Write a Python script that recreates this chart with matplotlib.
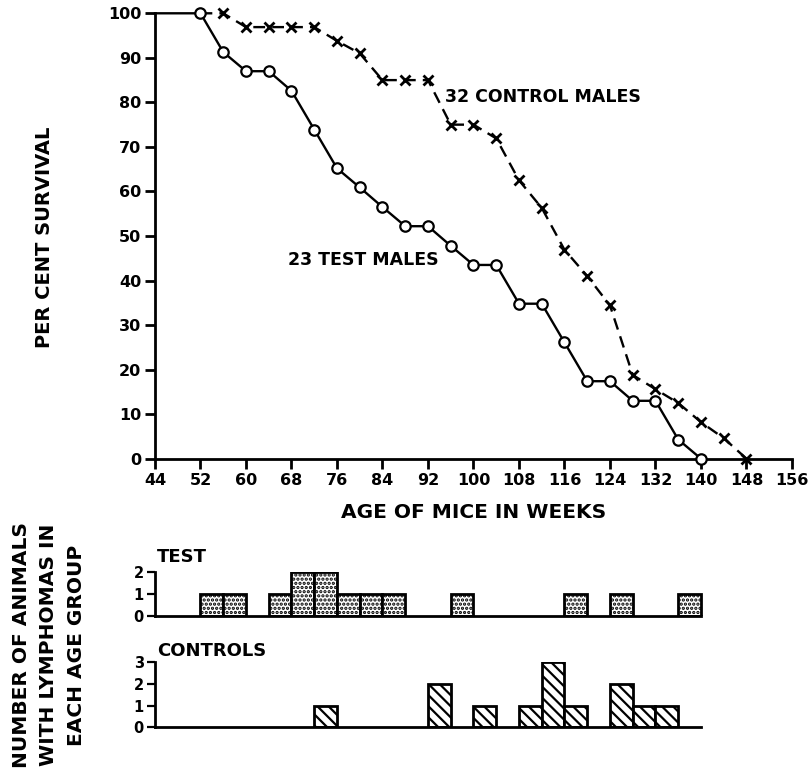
import numpy as np
import matplotlib.pyplot as plt

plt.rcParams['font.family'] = 'DejaVu Sans'
plt.rcParams['font.weight'] = 'bold'
plt.rcParams['hatch.linewidth'] = 1.6

# survival curves (per cent), first point of test curve is the flat start at 44 weeks
test_weeks = [44, 52, 56, 60, 64, 68, 72, 76, 80, 84, 88, 92, 96, 100, 104, 108, 112, 116, 120, 124, 128, 132, 136, 140]
test_surv = [100, 100, 91.3, 87, 87, 82.6, 73.9, 65.2, 60.9, 56.5, 52.2, 52.2, 47.8, 43.5, 43.5, 34.8, 34.8, 26.1,
             17.4, 17.4, 13, 13, 4.3, 0]
ctrl_weeks = [52, 56, 60, 64, 68, 72, 76, 80, 84, 88, 92, 96, 100, 104, 108, 112, 116, 120, 124, 128, 132, 136, 140,
              144, 148]
ctrl_surv = [100, 100, 96.9, 96.9, 96.9, 96.9, 93.8, 91, 85, 85, 85, 75, 75, 71.9, 62.5, 56.3, 46.9, 41, 34.4, 18.8,
             15.6, 12.5, 8.2, 4.6, 0]

# lymphomas per 4-week age group (left edge of group)
test_groups = [52, 56, 64, 68, 72, 76, 80, 84, 96, 116, 124, 136]
test_counts = [1, 1, 1, 2, 2, 1, 1, 1, 1, 1, 1, 1]
ctrl_groups = [72, 92, 100, 108, 112, 116, 124, 128, 132]
ctrl_counts = [1, 2, 1, 1, 3, 1, 2, 1, 1]

x_ticks = np.arange(44, 157, 8)
W, H = 812, 772
fig = plt.figure(figsize=(W / 100, H / 100), dpi=100)


def rect(x0, y0, x1, y1):
    # pixel box -> figure fraction
    return [x0 / W, 1 - y1 / H, (x1 - x0) / W, (y1 - y0) / H]


ax1 = fig.add_axes(rect(155, 13.3, 792, 458.7))
ax1.plot(ctrl_weeks, ctrl_surv, color='black', lw=1.7, ls=(0, (5, 3)), marker='x', ms=6.5, mew=2,
         markevery=list(range(1, len(ctrl_weeks))), clip_on=False, zorder=2)
ax1.plot(test_weeks, test_surv, color='black', lw=1.7, marker='o', ms=7.5, mfc='white', mec='black', mew=1.6,
         markevery=list(range(1, len(test_weeks))), clip_on=False, zorder=3)
ax1.set_xlim(44, 156)
ax1.set_ylim(0, 100)
ax1.set_xticks(x_ticks)
ax1.set_yticks(range(0, 101, 10))
for s in ['top', 'right']:
    ax1.spines[s].set_visible(False)
for s in ['left', 'bottom']:
    ax1.spines[s].set_linewidth(2)
ax1.tick_params(width=2, length=7, labelsize=11.5, pad=3)
ax1.text(95, 81.2, '32 CONTROL MALES', fontsize=12.5, va='center')
ax1.text(67.4, 44.5, '23 TEST MALES', fontsize=12.5, va='center')
fig.text(45 / W, 1 - 237 / H, 'PER CENT SURVIVAL', rotation=90, fontsize=14, ha='center', va='center')
fig.text(474 / W, 1 - 512 / H, 'AGE OF MICE IN WEEKS', fontsize=14.5, ha='center', va='center')

ax2 = fig.add_axes(rect(155, 571.7, 792, 615.7))
ax2.bar(test_groups, test_counts, width=4, align='edge', facecolor='white', edgecolor='black', lw=2,
        hatch='....')
ax2.set_ylim(0, 2)
ax2.set_yticks([0, 1, 2])

ax3 = fig.add_axes(rect(155, 662.3, 792, 727.3))
ax3.bar(ctrl_groups, ctrl_counts, width=4, align='edge', facecolor='white', edgecolor='black', lw=2,
        hatch='\\\\\\')
ax3.set_ylim(0, 3)
ax3.set_yticks([0, 1, 2, 3])

for ax, top in [(ax2, 2), (ax3, 3)]:
    ax.set_xlim(44, 156)
    ax.set_xticks([])
    for s in ['top', 'right']:
        ax.spines[s].set_visible(False)
    ax.spines['bottom'].set_bounds(44, 140)
    ax.spines['left'].set_bounds(0, top)
    for s in ['left', 'bottom']:
        ax.spines[s].set_linewidth(2)
    ax.tick_params(axis='y', width=1.6, length=6, labelsize=10.5, pad=2)

ax2.text(44.3, 2.65, 'TEST', fontsize=13, va='center')
ax3.text(44.3, 3.5, 'CONTROLS', fontsize=13, va='center')
fig.text(49 / W, 1 - 645 / H, 'NUMBER OF ANIMALS\nWITH LYMPHOMAS IN\nEACH AGE GROUP', rotation=90, fontsize=14.5,
         ha='center', va='center', multialignment='center', linespacing=1.55)

fig.savefig('out.png', dpi=100)
